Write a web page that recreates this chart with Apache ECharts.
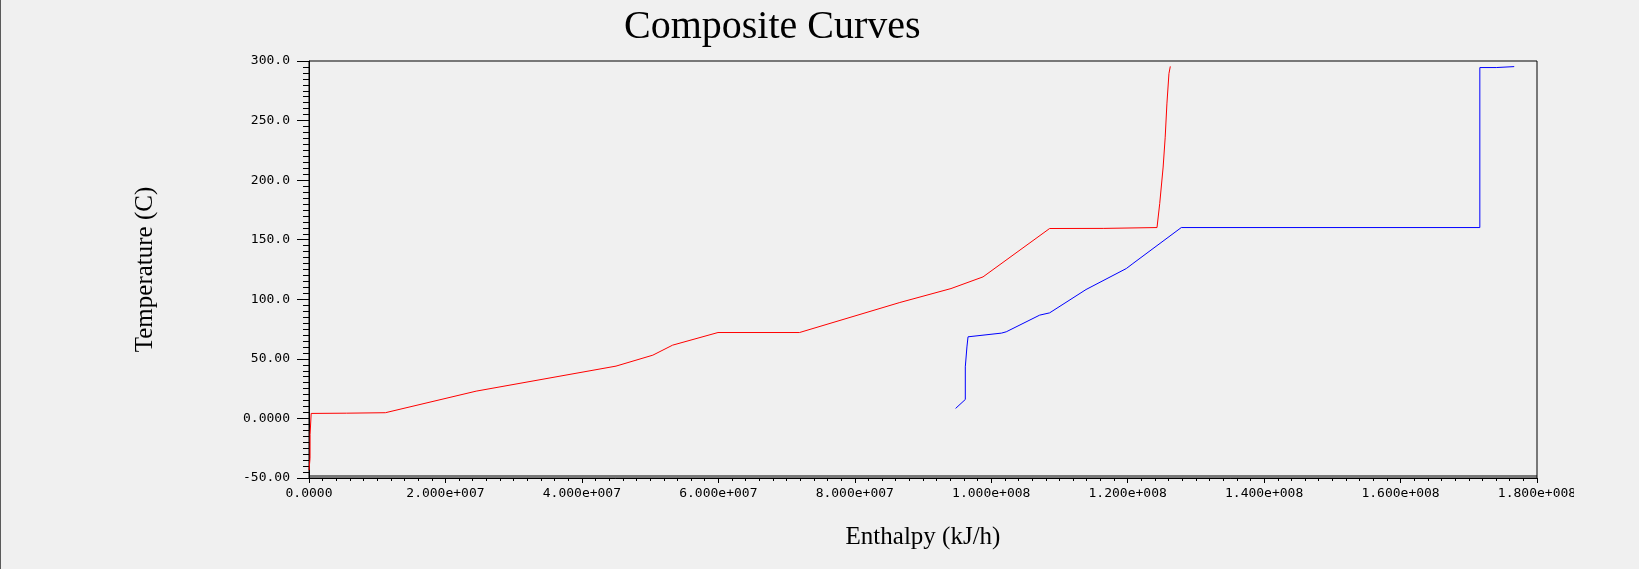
<!DOCTYPE html>
<html>
<head>
<meta charset="utf-8">
<title>Composite Curves</title>
<script src="https://cdn.jsdelivr.net/npm/echarts@6/dist/echarts.min.js"></script>
<style>
  html, body { margin: 0; padding: 0; background: #f0f0f0; }
  #chart { width: 1639px; height: 569px; }
</style>
</head>
<body>
<div id="chart"></div>
<script>
// red curve, enthalpy (kJ/h) and temperature (C)
const redEnthalpy = [0, 1.5e5, 1.6e5, 3.0e5, 3.2e5, 5.5e6, 1.12e7, 2.45e7, 4.5e7, 5.04e7, 5.33e7,
  5.995e7, 7.19e7, 8.66e7, 9.41e7, 9.88e7, 1.0856e8, 1.165e8, 1.243e8, 1.247e8, 1.252e8,
  1.255e8, 1.2575e8, 1.2605e8, 1.2625e8]
const redTemp = [-43.4, -33.5, -13.4, -12.5, 4.2, 4.4, 4.8, 22.9, 43.9, 53.1, 61.5,
  72.1, 72.1, 97.3, 109, 118.8, 159.4, 159.5, 160.2, 180.4, 211,
  236, 264, 289.4, 295.5]

// blue curve
const blueEnthalpy = [9.478e7, 9.62e7, 9.62e7, 9.644e7, 9.66e7, 1.015e8, 1.022e8, 1.071e8, 1.0856e8,
  1.139e8, 1.198e8, 1.2077e8, 1.2786e8, 1.7162e8, 1.7162e8, 1.7403e8, 1.7403e8, 1.7666e8]
const blueTemp = [8.4, 15.9, 43.3, 60.0, 68.5, 71.6, 72.7, 86.7, 88.6,
  108.2, 125.8, 130, 160.2, 160.2, 294.5, 294.5, 295.3, 295.3]

const xTickLabels = ['0.0000', '2.000e+007', '4.000e+007', '6.000e+007', '8.000e+007',
  '1.000e+008', '1.200e+008', '1.400e+008', '1.600e+008', '1.800e+008']
const yTickLabels = ['-50.00', '0.0000', '50.00', '100.0', '150.0', '200.0', '250.0', '300.0']

const chart = echarts.init(document.getElementById('chart'))

const tickFont = { fontFamily: 'DejaVu Sans Mono', fontSize: 13, color: '#000' }
const nameFont = { fontFamily: 'Liberation Serif', fontSize: 25, color: '#000' }

const option = {
  backgroundColor: '#f0f0f0',
  animation: false,
  title: {
    text: 'Composite Curves',
    left: 619,
    top: 2,
    textStyle: { fontFamily: 'Liberation Serif', fontSize: 40, fontWeight: 'normal', color: '#000' }
  },
  grid: {
    left: 309, right: 102, top: 61, bottom: 91,
    show: true, borderColor: '#000', borderWidth: 1, backgroundColor: 'transparent',
    outerBoundsMode: 'none'
  },
  xAxis: {
    type: 'value',
    min: 0, max: 1.8e8, interval: 2e7,
    name: 'Enthalpy (kJ/h)',
    nameLocation: 'middle',
    nameGap: 47,
    nameTextStyle: nameFont,
    axisLine: { show: true, onZero: false, lineStyle: { color: '#000', width: 1 } },
    axisTick: { show: true, length: 5, lineStyle: { color: '#000' } },
    minorTick: { show: true, splitNumber: 10, length: 3, lineStyle: { color: '#000' } },
    splitLine: { show: false },
    axisLabel: {
      ...tickFont,
      margin: 9,
      showMinLabel: true, showMaxLabel: true,
      formatter: (v) => xTickLabels[Math.round(v / 2e7)]
    }
  },
  yAxis: {
    type: 'value',
    min: -50, max: 300, interval: 50,
    name: 'Temperature (C)',
    nameLocation: 'middle',
    nameRotate: 90,
    nameGap: 151,
    nameTextStyle: nameFont,
    axisLine: { show: true, onZero: false, lineStyle: { color: '#000', width: 1 } },
    axisTick: { show: true, length: 12, lineStyle: { color: '#000' } },
    minorTick: { show: true, splitNumber: 10, length: 6, lineStyle: { color: '#000' } },
    splitLine: { show: false },
    axisLabel: {
      ...tickFont,
      margin: 19,
      showMinLabel: true, showMaxLabel: true,
      formatter: (v) => yTickLabels[Math.round((v + 50) / 50)]
    }
  },
  series: [
    {
      type: 'line',
      data: redEnthalpy.map((h, i) => [h, redTemp[i]]),
      showSymbol: false,
      lineStyle: { color: '#ff0000', width: 1 },
      itemStyle: { color: '#ff0000' }
    },
    {
      type: 'line',
      data: blueEnthalpy.map((h, i) => [h, blueTemp[i]]),
      showSymbol: false,
      lineStyle: { color: '#0000ff', width: 1 },
      itemStyle: { color: '#0000ff' }
    }
  ],
  graphic: [
    // window edge on the left
    { type: 'rect', left: 0, top: 0, shape: { width: 1, height: 569 }, style: { fill: '#5a5a5a' } },
    // inner frame line just above the x axis
    { type: 'rect', left: 309, top: 475.5, shape: { width: 1228, height: 1 }, style: { fill: '#000' } },
    // the last x label is cut at the canvas edge in the original
    { type: 'rect', left: 1574, top: 482, z: 100, shape: { width: 65, height: 22 }, style: { fill: '#f0f0f0' } }
  ]
}

chart.setOption(option)
</script>
</body>
</html>
